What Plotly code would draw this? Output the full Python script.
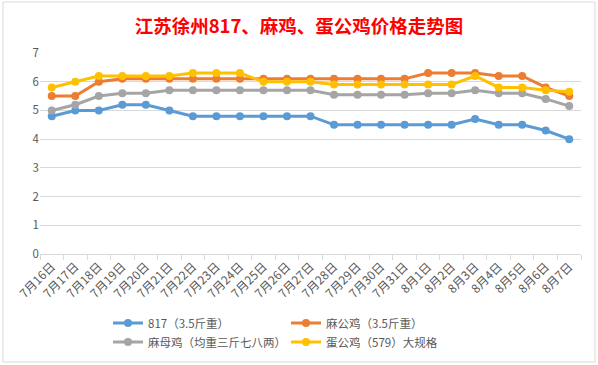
import plotly.graph_objects as go

dates = ["7月16日", "7月17日", "7月18日", "7月19日", "7月20日", "7月21日", "7月22日", "7月23日",
         "7月24日", "7月25日", "7月26日", "7月27日", "7月28日", "7月29日", "7月30日", "7月31日",
         "8月1日", "8月2日", "8月3日", "8月4日", "8月5日", "8月6日", "8月7日"]

s817 = [4.8, 5.0, 5.0, 5.2, 5.2, 5.0, 4.8, 4.8, 4.8, 4.8, 4.8, 4.8,
        4.5, 4.5, 4.5, 4.5, 4.5, 4.5, 4.7, 4.5, 4.5, 4.3, 4.0]
ma_gong = [5.5, 5.5, 6.0, 6.1, 6.1, 6.1, 6.1, 6.1, 6.1, 6.1, 6.1, 6.1,
           6.1, 6.1, 6.1, 6.1, 6.3, 6.3, 6.3, 6.2, 6.2, 5.8, 5.5]
ma_mu = [5.0, 5.2, 5.5, 5.6, 5.6, 5.7, 5.7, 5.7, 5.7, 5.7, 5.7, 5.7,
         5.55, 5.55, 5.55, 5.55, 5.6, 5.6, 5.7, 5.6, 5.6, 5.4, 5.15]
dan_gong = [5.8, 6.0, 6.2, 6.2, 6.2, 6.2, 6.3, 6.3, 6.3, 6.0, 6.0, 6.0,
            5.9, 5.9, 5.9, 5.9, 5.9, 5.9, 6.2, 5.8, 5.8, 5.7, 5.65]

names = ["817（3.5斤重）", "麻公鸡（3.5斤重）", "麻母鸡（均重三斤七八两）", "蛋公鸡（579）大规格"]
colors = ["#5B9BD5", "#ED7D31", "#A5A5A5", "#FFC000"]
series = [s817, ma_gong, ma_mu, dan_gong]
legends = ["legend", "legend", "legend2", "legend2"]

FONT = "Noto Sans CJK SC"

fig = go.Figure()
for name, col, ys, lg in zip(names, colors, series, legends):
    fig.add_trace(go.Scatter(
        x=dates, y=ys, name=name, mode="lines+markers",
        line=dict(color=col, width=3),
        marker=dict(color=col, size=8),
        legend=lg,
    ))

W, H = 598, 365
L, R, T, B = 40, 17, 53, 111
pw, ph = W - L - R, H - T - B

def px_x(p):
    return (p - L) / pw

def px_y(p):
    return (H - B - p) / ph

legend_common = dict(
    orientation="h", xanchor="left", yanchor="middle",
    entrywidth=133, entrywidthmode="pixels",
    font=dict(family=FONT, size=11.5, color="#595959"),
    bgcolor="rgba(0,0,0,0)", tracegroupgap=0,
)

fig.update_layout(
    width=W, height=H,
    margin=dict(l=L, r=R, t=T, b=B, autoexpand=False),
    paper_bgcolor="white", plot_bgcolor="white",
    font=dict(family=FONT, size=11, color="#595959"),
    title=dict(
        text="<b>江苏徐州817、麻鸡、蛋公鸡价格走势图</b>",
        font=dict(family=FONT, size=18.5, color="#FF0000"),
        x=0.5, xanchor="center", xref="container",
        y=1 - 27 / H, yanchor="middle", yref="container",
    ),
    xaxis=dict(
        type="category", range=[-0.5, len(dates) - 0.5], automargin=False,
        tickangle=-45, showline=True, linecolor="#D9D9D9", linewidth=1,
        ticks="outside", tickson="boundaries", ticklen=5, tickcolor="#D9D9D9",
        showgrid=False, tickfont=dict(family=FONT, size=12, color="#595959"),
    ),
    yaxis=dict(
        range=[0, 7], dtick=1, showgrid=True, gridcolor="#D9D9D9", gridwidth=1,
        zeroline=False, showline=False, ticks="", automargin=False,
        tickfont=dict(family=FONT, size=11.5, color="#595959"),
    ),
    legend=dict(x=px_x(108), y=px_y(323), **legend_common),
    legend2=dict(x=px_x(108), y=px_y(342), **legend_common),
    shapes=[dict(
        type="rect", xref="paper", yref="paper",
        x0=px_x(3), x1=px_x(595), y0=px_y(362), y1=px_y(2),
        line=dict(color="#D9D9D9", width=1), fillcolor="rgba(0,0,0,0)", layer="below",
    )],
)

fig.write_html(
    "out.html",
    config={"displayModeBar": False},
    post_script="document.body.style.margin='0';document.body.style.overflow='hidden';",
)
